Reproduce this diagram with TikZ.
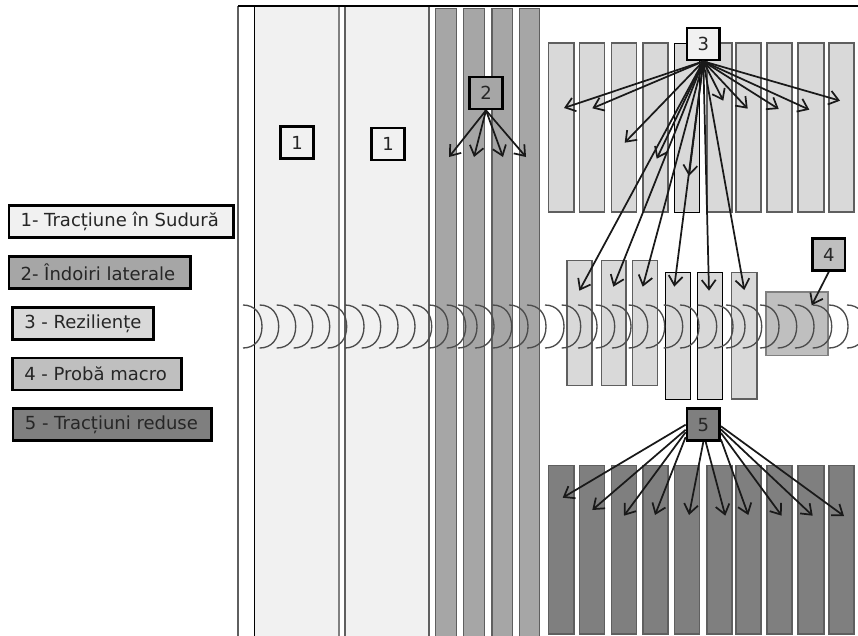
\documentclass[tikz,border=0pt]{standalone}
\usepackage{fontspec}
\setmainfont{DejaVu Sans}
\usetikzlibrary{arrows.meta}
\definecolor{cOne}{HTML}{F1F1F1}
\definecolor{cTwo}{HTML}{A6A6A6}
\definecolor{cThree}{HTML}{D9D9D9}
\definecolor{cFour}{HTML}{BFBFBF}
\definecolor{cFive}{HTML}{7F7F7F}
\definecolor{edgeGray}{HTML}{5F5F5F}
\definecolor{inkText}{HTML}{262626}
\newcommand{\legtext}[2]{\makebox[#1pt][l]{#2}}
\tikzset{
  numbox/.style={draw=black,line width=2pt,minimum width=24.5pt,minimum height=24pt,inner sep=0pt,text=inkText,font=\fontsize{13.5}{15}\selectfont},
  legendbox/.style={draw=black,line width=2pt,anchor=west,minimum height=24pt,inner ysep=0pt,inner xsep=8.8pt,text=inkText,font=\fontsize{13.5}{15}\selectfont},
  sample/.style={draw=edgeGray,line width=1.2pt},
  sampledark/.style={draw=black,line width=0.7pt},
  arr/.style={-{Straight Barb[length=7pt,width=10.5pt,line width=1.3pt]},line width=1.3pt,draw=black!90},
  weld/.style={draw=black!70,line width=1pt},
}
\begin{document}
\begin{tikzpicture}[x=0.75pt,y=-0.75pt]
\useasboundingbox (0,0) rectangle (858,636);
\fill[white] (0,0) rectangle (858,636);
% frame
\draw[draw=edgeGray,line width=1.6pt] (238,6) -- (238,636);
% large columns
\fill[cOne] (254,6) rectangle (339,636);
\fill[cOne] (345,6) rectangle (429,636);
\draw[black,line width=0.8pt] (254.5,6) -- (254.5,636);
\draw[draw=black!50,line width=1.6pt] (339,6) -- (339,636);
\draw[draw=edgeGray,line width=1.3pt] (345,6) -- (345,636);
\draw[draw=edgeGray,line width=1pt] (429,6) -- (429,636);
\draw[black,line width=1.7pt] (238,6) -- (858,6);
% bend bars
\foreach \a/\b in {435.5/456.5,463.5/484.5,492/512.5,519.5/539.5}
  \draw[sample,fill=cTwo] (\a,8.5) rectangle (\b,640);
% upper and lower rows
\foreach \a/\b in {548.5/574,579.5/604.5,611.5/636.5,643/668,707/731.7,736/761,767/792,798/823.7,828.7/854}{
  \draw[sample,fill=cThree] (\a,43) rectangle (\b,212);
  \draw[sample,fill=cFive] (\a,465.5) rectangle (\b,634);
}
\draw[sampledark,fill=cThree] (674.5,43) rectangle (699.5,212);
\draw[sample,fill=cFive] (674.5,465.5) rectangle (699.5,634);
% middle row
\foreach \a/\b in {567/591.7,601.3/626,632.3/657.4}
  \draw[sample,fill=cThree] (\a,260.3) rectangle (\b,385.4);
\foreach \a/\b in {665.5/690.5,697.5/722.5}
  \draw[sampledark,fill=cThree] (\a,272.5) rectangle (\b,399);
\draw[sample,fill=cThree] (731.3,272.5) rectangle (756.7,399);
\draw[draw=black!50,line width=1.2pt,fill=cFour] (766,292) rectangle (828,355.4);
% weld passes
\foreach \t in {262,278.7,295.7,312.7,329.7,346.7,364,380.7,398,415,431.7,448,465.7,477,494,511.7,528,546,564,580.7,597,614.7,631,647.7,664.7,682.7,699,716.7,733,745,761.7,779,796.7,814,831.7,848,866}
  \draw[weld] (\t-19,305) .. controls (\t-7,305) and (\t,314) .. (\t,326.5) .. controls (\t,339) and (\t-7,348) .. (\t-19,348);
% number boxes
\node[numbox,fill=cOne] (n1a) at (297,142.5) {1};
\node[numbox,fill=cOne] (n1b) at (388,144) {1};
\node[numbox,fill=cTwo] (b2) at (486,93) {2};
\node[numbox,fill=cOne] (b3) at (703.3,44) {3};
\node[numbox,fill=cFour] (b4) at (828.8,254.5) {4};
\node[numbox,fill=cFive] (b5) at (703.3,424.7) {5};
% arrows of 2
\foreach \i/\x/\y in {1/449,2/474,3/503,4/526}{
  \coordinate (t2-\i) at (\x,157);
  \draw[arr] (b2.south) -- (t2-\i);
}
% arrows of 3
\foreach \i/\x/\y in {1/564/108,2/592.3/108.3,3/624.7/142.7,4/656.7/158.7,5/689/176,6/723.3/100.7,7/747.7/108.7,8/778.7/109,9/809.3/109.7,10/840/100.7,11/579.3/290.7,12/613.3/286.7,13/642.7/286.7,14/674.3/286.7,15/709/290.7,16/744.3/290}{
  \coordinate (t3-\i) at (\x,\y);
  \draw[arr] (b3.south) -- (t3-\i);
}
% arrow of 4
\coordinate (t4) at (811.7,305.3);
\draw[arr] (b4.south) -- (t4);
% arrows of 5
\foreach \i/\ang/\x/\y in {1/180/562.7/497.7,2/196/592.3/510,3/203/624/515.7,4/215/655/515,5/270/689/515,6/278/725.3/515.7,7/320/748.3/515,8/335/781.7/515.7,9/345/812.7/515.7,10/355/844/516}{
  \coordinate (t5-\i) at (\x,\y);
  \draw[arr] (b5.\ang) -- (t5-\i);
}
% legend
\node[legendbox,fill=cOne] (l1) at (7.5,221.7) {\legtext{151}{1- Tracțiune în Sudură}};
\node[legendbox,fill=cTwo] (l2) at (7.5,272.3) {\legtext{118.5}{2- Îndoiri laterale}};
\node[legendbox,fill=cThree] (l3) at (11.2,323.5) {\legtext{88}{3 - Reziliențe}};
\node[legendbox,fill=cFour] (l4) at (11.2,374) {\legtext{109}{4 - Probă macro}};
\node[legendbox,fill=cFive] (l5) at (11.8,424.5) {\legtext{131}{5 - Tracțiuni reduse}};
\end{tikzpicture}
\end{document}
